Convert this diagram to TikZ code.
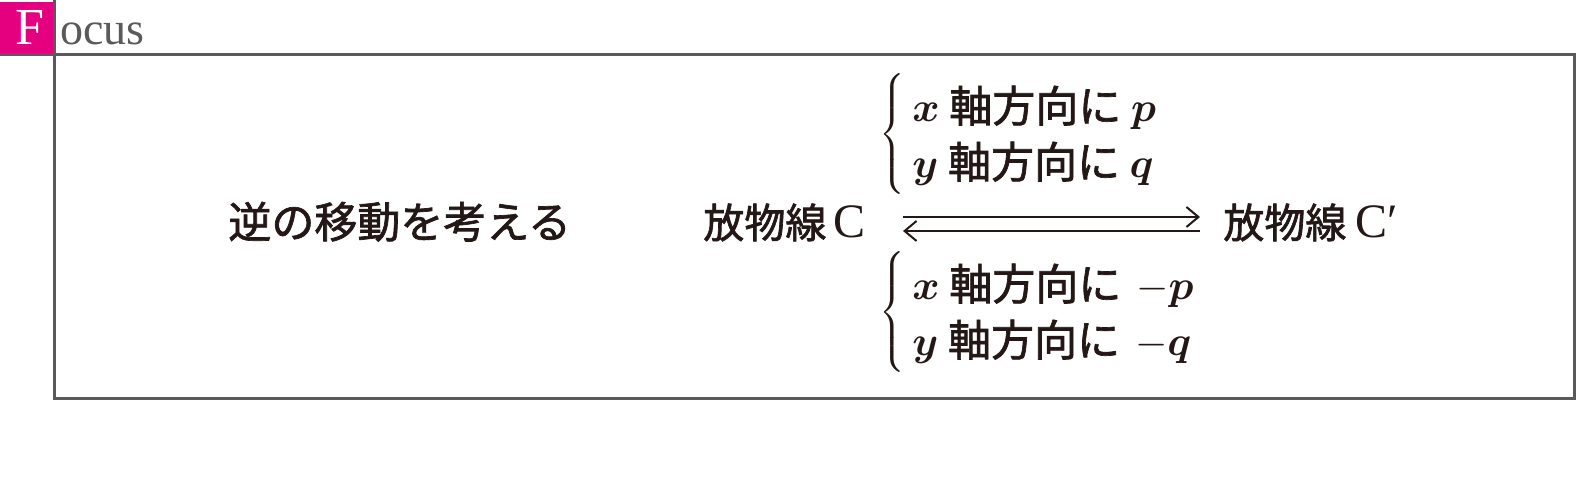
\documentclass[tikz,border=0pt]{standalone}
\usepackage{amsmath}
\usepackage{fontspec}
\setmainfont{Liberation Serif}
\newfontfamily\jp{Noto Sans CJK JP}[FakeBold=1.6]
\usetikzlibrary{arrows.meta}
\definecolor{ink}{HTML}{231815}
\definecolor{framegray}{HTML}{5A5A5C}
\definecolor{mag}{HTML}{E4007F}
\newcommand{\vb}[1]{$\boldsymbol{#1}$}
\newcommand{\rmC}[1]{{\rmfamily\fontsize{24}{26}\selectfont #1}}
\begin{document}
\begin{tikzpicture}[x=0.5pt,y=-0.5pt,
  txt/.style={inner sep=0pt, text=ink, font=\jp\fontsize{21.5}{25}\selectfont},
  curvename/.style={inner sep=0pt, text=ink, font=\jp\fontsize{20.5}{25}\selectfont},
  brace/.style={inner sep=0pt, text=ink, font=\fontsize{14}{16}\selectfont},
  frameline/.style={draw=framegray, line width=1.5pt},
  arr/.style={draw=ink, line width=1pt, -{Straight Barb[length=6pt,width=10pt]}}]
\useasboundingbox (0,0) rectangle (1590,490);
\fill[mag] (0,2) rectangle (53,54);
\draw[frameline] (54,55) rectangle (1574,399);
\draw[frameline] (0,55) -- (54,55) -- (54,0);
\node[anchor=base west, inner sep=0pt, text=white, font=\fontsize{26}{26}\selectfont] (F) at (15,45) {F};
\node[anchor=base west, inner sep=0pt, text=framegray, font=\fontsize{23}{23}\selectfont] (ocus) at (60,45) {ocus};

\node[txt, anchor=base west] (rev) at (228,238) {逆の移動を考える};
\node[curvename, anchor=base west] (C) at (703,238) {放物線\,\rmC{C}};
\node[curvename, anchor=base west] (C2) at (1223,238) {放物線 \rmC{C′}};

\coordinate (a1) at (903,217);
\coordinate (a2) at (1200,217);
\coordinate (b1) at (1200,231);
\coordinate (b2) at (903,231);
\draw[arr] (a1) -- (a2);
\draw[arr] (b1) -- (b2);

\node[brace, anchor=east] (br1) at (908,134) {$\left\{\vrule height 25pt depth 25pt width 0pt\right.$};
\node[txt, anchor=base west] (l1) at (912,122) {\vb{x} 軸方向に \vb{p}};
\node[txt, anchor=base west] (l2) at (912,178) {\vb{y} 軸方向に \vb{q}};

\node[brace, anchor=east] (br2) at (908,312) {$\left\{\vrule height 25pt depth 25pt width 0pt\right.$};
\node[txt, anchor=base west] (l3) at (912,300) {\vb{x} 軸方向に\hspace{0.35em}$-\boldsymbol{p}$};
\node[txt, anchor=base west] (l4) at (912,356) {\vb{y} 軸方向に\hspace{0.35em}$-\boldsymbol{q}$};
\end{tikzpicture}
\end{document}
